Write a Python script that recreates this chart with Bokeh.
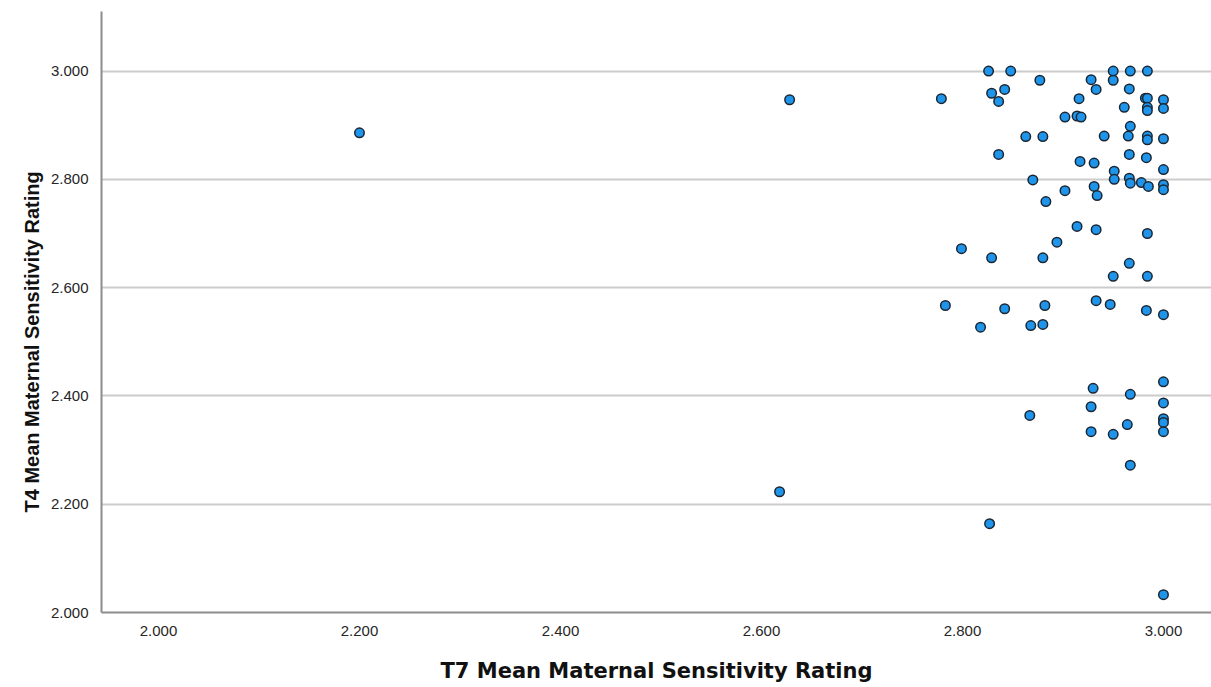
from bokeh.plotting import figure
from bokeh.models import Range1d, FixedTicker, PrintfTickFormatter, ColumnDataSource, Title
from bokeh.embed import file_html
from bokeh.resources import INLINE

# ---- data ----
t7_mean = [
    2.779, 2.826, 2.848, 2.877, 2.829, 2.842, 2.836, 2.928, 2.933, 2.950,
    2.950, 2.967, 2.984, 2.966, 2.916, 2.982, 2.984, 2.984, 2.984, 3.000,
    3.000, 2.961, 2.902, 2.914, 2.918, 2.863, 2.880, 2.941, 2.965, 2.967,
    2.984, 2.984, 3.000, 2.836, 2.917, 2.931, 2.966, 2.983, 3.000, 2.951,
    2.951, 2.966, 2.967, 2.978, 2.985, 3.000, 3.000, 2.870, 2.902, 2.931,
    2.934, 2.883, 2.914, 2.933, 2.984, 2.894, 2.799, 2.829, 2.880, 2.966,
    2.950, 2.984, 2.783, 2.842, 2.882, 2.933, 2.947, 2.983, 3.000, 2.818,
    2.868, 2.880, 3.000, 2.930, 2.967, 3.000, 2.928, 2.867, 3.000, 3.000,
    2.964, 2.928, 2.950, 3.000, 2.967, 2.200, 2.628, 2.618, 2.827, 3.000,
]
t4_mean = [
    2.949, 3.000, 3.000, 2.983, 2.959, 2.966, 2.944, 2.984, 2.966, 3.000,
    2.983, 3.000, 3.000, 2.967, 2.949, 2.950, 2.950, 2.933, 2.927, 2.947,
    2.931, 2.933, 2.915, 2.917, 2.915, 2.879, 2.879, 2.880, 2.880, 2.898,
    2.880, 2.873, 2.875, 2.846, 2.833, 2.830, 2.846, 2.840, 2.818, 2.815,
    2.800, 2.802, 2.793, 2.794, 2.787, 2.790, 2.781, 2.799, 2.779, 2.787,
    2.770, 2.759, 2.713, 2.707, 2.700, 2.684, 2.672, 2.655, 2.655, 2.645,
    2.621, 2.621, 2.567, 2.561, 2.567, 2.576, 2.569, 2.558, 2.550, 2.527,
    2.530, 2.532, 2.426, 2.414, 2.403, 2.387, 2.380, 2.364, 2.358, 2.351,
    2.347, 2.334, 2.329, 2.334, 2.272, 2.886, 2.947, 2.223, 2.164, 2.033,
]

x_ticks = [2.0, 2.2, 2.4, 2.6, 2.8, 3.0]
x_tick_labels = ["2.000", "2.200", "2.400", "2.600", "2.800", "3.000"]
y_ticks = [2.0, 2.2, 2.4, 2.6, 2.8, 3.0]
y_tick_labels = ["2.000", "2.200", "2.400", "2.600", "2.800", "3.000"]

x_title = "T7 Mean Maternal Sensitivity Rating"
y_title = "T4 Mean Maternal Sensitivity Rating"

# ---- figure ----
p = figure(
    width=1211, height=687,
    x_range=Range1d(1.9433, 3.0478),
    y_range=Range1d(2.0, 3.110),
    output_backend="svg", toolbar_location=None,
    min_border_left=101, min_border_right=0, min_border_top=11, min_border_bottom=75,
)
p.outline_line_color = None
p.background_fill_color = "white"
p.border_fill_color = "white"

src = ColumnDataSource(dict(x=t7_mean, y=t4_mean))
p.scatter("x", "y", source=src, size=9.5, fill_color="#1e95ea",
          line_color="#1b2633", line_width=1.5)

# axes
for ax in (p.xaxis[0], p.yaxis[0]):
    ax.axis_line_color = "#8c8c8c"
    ax.axis_line_width = 2
    ax.major_tick_line_color = None
    ax.minor_tick_line_color = None
    ax.major_tick_out = 0
    ax.major_tick_in = 0
    ax.major_label_text_font = "Liberation Sans"
    ax.major_label_text_font_size = "15px"
    ax.major_label_text_color = "#262626"
    ax.formatter = PrintfTickFormatter(format="%.3f")

p.xaxis.ticker = FixedTicker(ticks=x_ticks)
p.yaxis.ticker = FixedTicker(ticks=y_ticks)
p.xaxis.major_label_overrides = dict(zip(x_ticks, x_tick_labels))
p.yaxis.major_label_overrides = dict(zip(y_ticks, y_tick_labels))
p.xaxis.major_label_standoff = 13
p.yaxis.major_label_standoff = 13

p.xaxis.axis_label = x_title
p.xaxis.axis_label_text_font = "DejaVu Sans"
p.xaxis.axis_label_text_font_style = "bold"
p.xaxis.axis_label_text_font_size = "21px"
p.xaxis.axis_label_text_color = "#111111"
p.xaxis.axis_label_standoff = 20

# y-axis title, placed along the 2.000-3.000 span as in the reference
ytitle = Title(text=y_title, align="left", offset=100,
               text_font="Liberation Sans", text_font_style="bold",
               text_font_size="20px", text_color="#111111")
p.add_layout(ytitle, "left")

# grid
p.xgrid.grid_line_color = None
p.ygrid.ticker = FixedTicker(ticks=y_ticks)
p.ygrid.grid_line_color = "#cccccc"
p.ygrid.grid_line_width = 2

open("out.html", "w").write(file_html(p, INLINE))
